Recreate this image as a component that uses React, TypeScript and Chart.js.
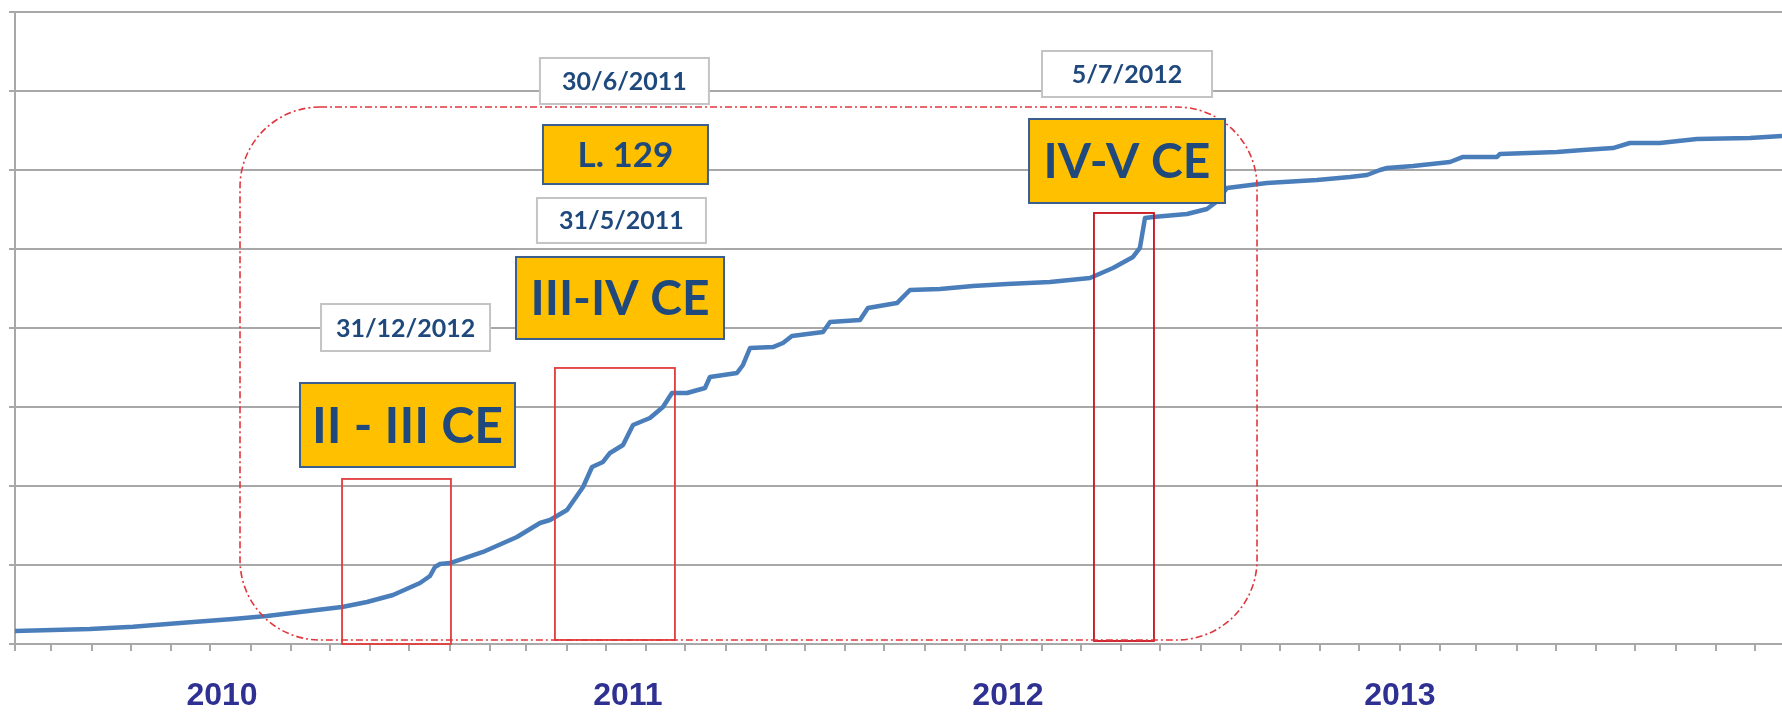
import React, { useEffect, useRef } from 'react';
import { Chart, registerables } from 'chart.js';

Chart.register(...registerables);

// ---- Series (x = days since the first month tick, y = cumulative value) ----
const lineDays = [
  0, 57.6, 90.7, 126.8, 167.5, 193.6, 219, 251.3, 270.5, 290.5, 311.2, 318.9, 322.7,
  326.6, 334.3, 359.6, 385.7, 403.4, 411.1, 424.2, 436.5, 443.4, 451.8, 457.2, 467.2,
  474.9, 487.9, 497.9, 504.8, 516.4, 530.2, 534.0, 554.8, 559.4, 564.8, 582.4, 590.1,
  597.0, 620.9, 626.3, 649.3, 655.4, 677.7, 687.7, 710.8, 736.1, 762.3, 795.3, 826.0,
  843.7, 859.1, 864.4, 868.3, 874.4, 900.6, 915.9, 922.1, 931.3, 962.0, 1000.5, 1025.8,
  1038.9, 1048.9, 1054.3, 1074.3, 1102.7, 1112.7, 1138.8, 1141.1, 1184.9, 1204.9,
  1227.9, 1240.9, 1264.0, 1292.4, 1333.1, 1357.8,
];
const lineValues = [
  1.65, 1.9, 2.19, 2.66, 3.16, 3.54, 4.05, 4.68, 5.32, 6.2, 7.72, 8.61, 9.75,
  10.13, 10.25, 11.65, 13.54, 15.32, 15.7, 16.96, 19.87, 22.41, 23.04, 24.18, 25.19,
  27.72, 28.61, 30.0, 31.77, 31.77, 32.41, 33.8, 34.3, 35.32, 37.47, 37.59, 38.1,
  38.99, 39.49, 40.76, 41.01, 42.53, 43.16, 44.81, 44.94, 45.32, 45.57, 45.82, 46.33,
  47.59, 48.99, 50.13, 53.92, 54.05, 54.43, 55.06, 55.82, 57.72, 58.35, 58.73, 59.11,
  59.37, 60.0, 60.25, 60.51, 61.01, 61.65, 61.65, 62.03, 62.28, 62.53,
  62.78, 63.42, 63.42, 63.92, 64.05, 64.3,
];

// ---- Axis ----
const monthLengths = [28, 31, 30, 31, 30, 31, 31, 30, 31, 30, 31, 31];
const xMaxDays = 1357.8;
const yMax = 80;
const yStep = 10;
const yearLabels = ['2010', '2011', '2012', '2013'];
const yearPositions = [159.1, 471.0, 763.0, 1064.2];

// ---- Annotations ----
const highlightFrom = [251.3, 414.9, 829.1];
const highlightTo = [335.0, 507.1, 875.2];
const highlightLow = [0, 0.51, 0.38];
const highlightHigh = [20.89, 34.94, 54.56];
const highlightColors = ['#e03c3c', '#e03c3c', '#c8101a'];

const periodFrame = { from: 172.9, to: 954.4, low: 0.51, high: 67.97 };

const labelTexts = ['30/6/2011', 'L. 129', '31/5/2011', 'III-IV CE', '31/12/2012', 'II - III CE', '5/7/2012', 'IV-V CE'];
const labelDays = [468.3, 469.1, 466.0, 464.9, 300.1, 301.6, 854.5, 854.5];
const labelValues = [71.27, 61.96, 53.61, 43.8, 40.06, 27.72, 72.15, 61.14];
const labelKinds = ['date', 'tag', 'date', 'tag', 'date', 'tag', 'date', 'tag'];
const labelWidths = [169, 165, 169, 208, 169, 215, 170, 196];
const labelHeights = [46, 59, 45, 82, 47, 84, 46, 84];
const labelFontSizes = [25, 35, 25, 48, 25, 50, 25, 48];

const GRID = '#a8a8a8';
const TEXT_BLUE = '#1f497d';
const CANVAS_W = 1782;
const VISIBLE_H = 712;
const CANVAS_H = 742; // bottom 30px hidden: balances the axis label padding

function roundRectPath(ctx: CanvasRenderingContext2D, x0: number, y0: number, x1: number, y1: number, r: number) {
  ctx.beginPath();
  ctx.moveTo(x0 + r, y0);
  ctx.lineTo(x1 - r, y0);
  ctx.arcTo(x1, y0, x1, y0 + r, r);
  ctx.lineTo(x1, y1 - r);
  ctx.arcTo(x1, y1, x1 - r, y1, r);
  ctx.lineTo(x0 + r, y1);
  ctx.arcTo(x0, y1, x0, y1 - r, r);
  ctx.lineTo(x0, y0 + r);
  ctx.arcTo(x0, y0, x0 + r, y0, r);
  ctx.closePath();
}

const overlayPlugin = {
  id: 'overlay',
  afterDatasetsDraw(chart: any) {
    const { ctx } = chart;
    const x = chart.scales.x;
    const y = chart.scales.y;
    ctx.save();
    ctx.setLineDash([]);
    for (let i = 0; i < highlightFrom.length; i++) {
      const x0 = x.getPixelForValue(highlightFrom[i]);
      const x1 = x.getPixelForValue(highlightTo[i]);
      const y0 = y.getPixelForValue(highlightHigh[i]);
      const y1 = y.getPixelForValue(highlightLow[i]);
      ctx.strokeStyle = highlightColors[i];
      ctx.lineWidth = 1.8;
      ctx.strokeRect(x0, y0, x1 - x0, y1 - y0);
    }
    ctx.strokeStyle = '#e0363c';
    ctx.lineWidth = 1.6;
    ctx.setLineDash([7, 3, 2, 3]);
    roundRectPath(
      ctx,
      x.getPixelForValue(periodFrame.from),
      y.getPixelForValue(periodFrame.high),
      x.getPixelForValue(periodFrame.to),
      y.getPixelForValue(periodFrame.low),
      80
    );
    ctx.stroke();
    ctx.setLineDash([]);
    for (let i = 0; i < labelTexts.length; i++) {
      const cx = x.getPixelForValue(labelDays[i]);
      const cy = y.getPixelForValue(labelValues[i]);
      const w = labelWidths[i];
      const h = labelHeights[i];
      const isTag = labelKinds[i] === 'tag';
      ctx.fillStyle = isTag ? '#ffc000' : '#ffffff';
      ctx.fillRect(cx - w / 2, cy - h / 2, w, h);
      ctx.strokeStyle = isTag ? '#3a5f8f' : '#c4c4c4';
      ctx.lineWidth = 2;
      ctx.strokeRect(cx - w / 2, cy - h / 2, w, h);
      const size = labelFontSizes[i];
      ctx.font = `bold ${size}px Lato, "Open Sans", sans-serif`;
      ctx.fillStyle = TEXT_BLUE;
      ctx.textAlign = 'center';
      ctx.textBaseline = 'alphabetic';
      ctx.fillText(labelTexts[i], cx, cy + size * 0.36);
    }
    ctx.restore();
  },
};

export default function App() {
  const canvasRef = useRef<HTMLCanvasElement | null>(null);

  useEffect(() => {
    const canvas = canvasRef.current;
    if (!canvas) return;
    const points = lineDays.map((d, i) => ({ x: d, y: lineValues[i] }));

    const chart = new Chart(canvas, {
      type: 'line',
      data: {
        datasets: [
          {
            data: points,
            borderColor: '#4a7ebb',
            borderWidth: 4.5,
            pointRadius: 0,
            tension: 0,
            fill: false,
            borderJoinStyle: 'round',
          },
        ],
      },
      options: {
        animation: false,
        responsive: false,
        devicePixelRatio: 1,
        layout: { padding: { left: 9, right: 0, top: 12, bottom: 0 } },
        plugins: { legend: { display: false }, tooltip: { enabled: false } },
        scales: {
          x: {
            type: 'linear',
            min: 0,
            max: xMaxDays,
            weight: 0,
            afterBuildTicks: (scale: any) => {
              const ticks = [];
              let d = 0;
              let i = 0;
              while (d <= xMaxDays) {
                ticks.push({ value: d });
                d += monthLengths[i % monthLengths.length];
                i++;
              }
              scale.ticks = ticks;
            },
            ticks: { display: false },
            grid: { drawOnChartArea: false, drawTicks: true, tickLength: 7, color: GRID, lineWidth: 2 },
            border: { display: true, color: GRID, width: 2 },
          },
          x2: {
            type: 'linear',
            position: 'bottom',
            min: 0,
            max: xMaxDays,
            weight: 1,
            afterBuildTicks: (scale: any) => {
              scale.ticks = yearPositions.map((v) => ({ value: v }));
            },
            ticks: {
              autoSkip: false,
              maxRotation: 0,
              padding: 30,
              color: '#2e3192',
              font: { family: '"Liberation Sans", Arial, sans-serif', size: 32, weight: 'bold', lineHeight: '31px' },
              callback: (_v: any, index: number) => yearLabels[index],
            },
            grid: { display: false, drawTicks: false },
            border: { display: false },
          },
          y: {
            type: 'linear',
            min: 0,
            max: yMax,
            ticks: { display: false, stepSize: yStep },
            grid: { color: GRID, lineWidth: 2, tickLength: 6, drawTicks: true },
            border: { display: true, color: GRID, width: 2 },
          },
        },
      },
      plugins: [overlayPlugin],
    } as any);

    return () => chart.destroy();
  }, []);

  return (
    <div style={{ position: 'absolute', left: 0, top: 0, width: CANVAS_W, height: VISIBLE_H, overflow: 'hidden', background: '#ffffff' }}>
      <canvas ref={canvasRef} width={CANVAS_W} height={CANVAS_H} style={{ display: 'block', width: CANVAS_W, height: CANVAS_H }} />
    </div>
  );
}
